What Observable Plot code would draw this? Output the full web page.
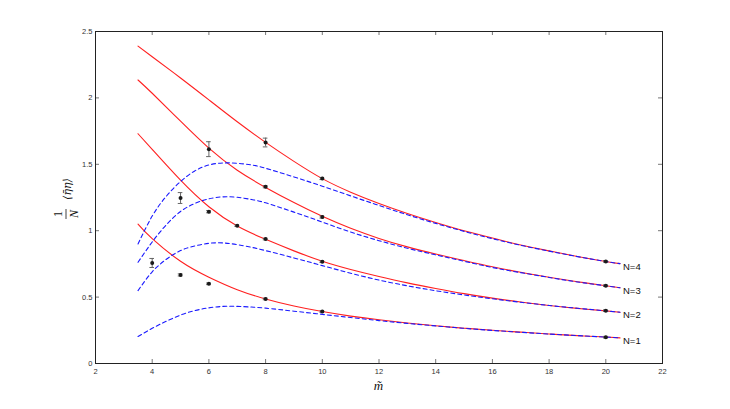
<!DOCTYPE html>
<html><head><meta charset="utf-8">
<script src="https://cdn.jsdelivr.net/npm/d3@7"></script>
<script src="https://cdn.jsdelivr.net/npm/@observablehq/plot@0.6"></script>
<style>body{margin:0;background:#fff;} #chart{width:730px;height:409px;}</style>
</head><body><div id="chart"></div>
<script>
// ---- data ----
const xTicks = [2,4,6,8,10,12,14,16,18,20,22];
const yTicks = [0,0.5,1,1.5,2,2.5];
const curveNames = ["N=1","N=2","N=3","N=4"];

const mRed = [3.5,4,5,6,7,8,9,10,11,12,13,14,15,16,17,18,19,20,20.5];
const red1 = [1.05,0.94,0.77,0.65,0.556,0.486,0.433,0.391,0.357,0.329,0.305,0.284,0.266,0.25,0.236,0.222,0.21,0.199,0.193];
const red2 = [1.73,1.612,1.38,1.18,1.035,0.935,0.848,0.77,0.708,0.655,0.607,0.565,0.526,0.492,0.463,0.437,0.415,0.396,0.386];
const red3 = [2.135,2.035,1.825,1.622,1.455,1.326,1.212,1.108,1.018,0.942,0.878,0.824,0.775,0.728,0.687,0.65,0.616,0.585,0.57];
const red4 = [2.39,2.31,2.15,1.985,1.82,1.665,1.522,1.392,1.29,1.205,1.13,1.062,1.0,0.945,0.892,0.848,0.806,0.768,0.752];

const mBlue = [3.5,4,4.5,5,5.5,6,6.5,7,7.5,8,9,10,11,12,13,14,15,16,17,18,19,20,20.5];
const blue1 = [0.203,0.265,0.318,0.365,0.398,0.419,0.43,0.43,0.425,0.417,0.394,0.37,0.346,0.323,0.302,0.283,0.265,0.249,0.235,0.222,0.21,0.199,0.193];
const blue2 = [0.549,0.69,0.785,0.85,0.885,0.905,0.908,0.895,0.875,0.85,0.795,0.737,0.68,0.628,0.585,0.548,0.516,0.487,0.461,0.437,0.416,0.396,0.386];
const blue3 = [0.762,0.915,1.045,1.145,1.205,1.24,1.255,1.252,1.235,1.21,1.14,1.065,0.99,0.925,0.868,0.818,0.77,0.723,0.684,0.648,0.614,0.585,0.57];
const blue4 = [0.90,1.11,1.26,1.37,1.45,1.495,1.51,1.508,1.495,1.47,1.405,1.335,1.262,1.19,1.12,1.055,0.995,0.94,0.89,0.846,0.805,0.768,0.752];

const ptM   = [4,5,5,6,6,6,7,8,8,8,8,10,10,10,10,20,20,20,20];
const ptV   = [0.757,0.667,1.246,0.60,1.143,1.614,1.038,0.486,0.937,1.331,1.664,0.391,0.767,1.103,1.393,0.198,0.398,0.586,0.769];
const ptErr = [0.034,0.008,0.041,0.006,0.008,0.056,0.006,0.006,0.006,0.008,0.033,0.006,0.006,0.008,0.008,0.006,0.006,0.006,0.006];

// ---- tables ----
const reds = [red1,red2,red3,red4], blues = [blue1,blue2,blue3,blue4];
const redRows = reds.flatMap((arr,k)=>arr.map((v,i)=>({m:mRed[i], v, N:curveNames[k]})));
const blueRows = blues.flatMap((arr,k)=>arr.map((v,i)=>({m:mBlue[i], v, N:curveNames[k]})));
const pts = ptM.map((m,i)=>({m, v:ptV[i], lo:ptV[i]-ptErr[i], hi:ptV[i]+ptErr[i]}));
const labels = reds.map((arr,k)=>({m:mRed[mRed.length-1], v:arr[arr.length-1], t:curveNames[k]}));

const W=730, H=409, mL=95, mR=68, mT=31, mB=46;
const xDom=[2,22], yDom=[0,2.5];
const tx = 4*(xDom[1]-xDom[0])/(W-mL-mR);   // 4px tick length in x units
const ty = 4*(yDom[1]-yDom[0])/(H-mT-mB);   // 4px tick length in y units
const capW = 2.3*(xDom[1]-xDom[0])/(W-mL-mR);

const plot = Plot.plot({
  width: W, height: H,
  marginLeft: mL, marginRight: mR, marginTop: mT, marginBottom: mB,
  style: {fontFamily: "'Liberation Sans', Arial, sans-serif", fontSize: "7.5px", color: "#333", background: "#fff"},
  x: {domain: xDom},
  y: {domain: yDom},
  marks: [
    Plot.axisX({ticks: xTicks, tickSize: 0, tickPadding: 5, label: null, tickFormat: d=>String(d)}),
    Plot.axisY({ticks: yTicks, tickSize: 0, tickPadding: 3, label: null, tickFormat: d=>String(d)}),
    // inward ticks on all four sides
    Plot.ruleX(xTicks, {x: d=>d, y1: yDom[0], y2: yDom[0]+ty, stroke: "#777"}),
    Plot.ruleX(xTicks, {x: d=>d, y1: yDom[1], y2: yDom[1]-ty, stroke: "#777"}),
    Plot.ruleY(yTicks, {y: d=>d, x1: xDom[0], x2: xDom[0]+tx, stroke: "#777"}),
    Plot.ruleY(yTicks, {y: d=>d, x1: xDom[1], x2: xDom[1]-tx, stroke: "#777"}),
    Plot.line(redRows, {x: "m", y: "v", z: "N", stroke: "#ff2020", strokeWidth: 1.1, curve: "natural"}),
    Plot.line(blueRows, {x: "m", y: "v", z: "N", stroke: "#1a1aff", strokeWidth: 1.1, strokeDasharray: "4,3", curve: "natural"}),
    Plot.ruleX(pts, {x: "m", y1: "lo", y2: "hi", stroke: "#666", strokeWidth: 1}),
    Plot.ruleY(pts, {y: "lo", x1: d=>d.m-capW, x2: d=>d.m+capW, stroke: "#666", strokeWidth: 1}),
    Plot.ruleY(pts, {y: "hi", x1: d=>d.m-capW, x2: d=>d.m+capW, stroke: "#666", strokeWidth: 1}),
    Plot.dot(pts, {x: "m", y: "v", r: 2, fill: "#1a1a1a", stroke: "none"}),
    Plot.text(labels, {x: "m", y: "v", text: "t", dx: 3, dy: 3, textAnchor: "start", fontSize: 9.5, fill: "#111"}),
    Plot.frame({stroke: "#222", strokeWidth: 1})
  ]
});
document.getElementById("chart").appendChild(plot);

// axis titles as real text
const svg = d3.select(plot);
const g = svg.append("g").attr("transform", "translate(66,197) rotate(-90)")
  .attr("fill", "#111").attr("text-anchor", "middle");
g.append("text").attr("x", -17).attr("y", -4.5)
  .attr("font-family", "'Liberation Serif', 'DejaVu Serif', serif").attr("font-size", 12).text("1");
g.append("line").attr("x1", -22).attr("x2", -12).attr("y1", 0).attr("y2", 0)
  .attr("stroke", "#111").attr("stroke-width", 0.8);
g.append("text").attr("x", -17).attr("y", 12)
  .attr("font-family", "'Liberation Serif', 'DejaVu Serif', serif").attr("font-style", "italic").attr("font-size", 12).text("N");
g.append("text").attr("x", 8).attr("y", 5)
  .attr("font-family", "'DejaVu Serif', serif").attr("font-style", "italic").attr("font-size", 11).text("\u27E8\u03B7\u0304\u03B7\u27E9");

svg.append("text").attr("x", (mL + (W-mR))/2).attr("y", 390)
  .attr("text-anchor", "middle").attr("fill", "#111")
  .attr("font-family", "'Liberation Serif', 'DejaVu Serif', serif").attr("font-style", "italic").attr("font-size", 13)
  .text("m\u0303");
</script>
</body></html>
